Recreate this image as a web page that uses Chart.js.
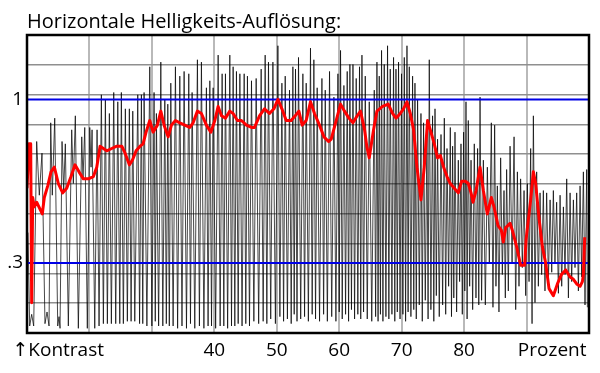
<!DOCTYPE html>
<html>
<head>
<meta charset="utf-8">
<script src="https://cdn.jsdelivr.net/npm/chart.js@4/dist/chart.umd.min.js"></script>
<style>
html, body { margin: 0; padding: 0; background: #fff; }
</style>
</head>
<body>
<canvas id="myChart" width="600" height="373"></canvas>
<script>
// x = Prozent, y = Kontrast (linear, 0 at the bottom frame)
var titleText = 'Horizontale Helligkeits-Auflösung:';
var xGrid = [20, 30, 40, 50, 60, 70, 80, 90];
var xLabels = { 15: '\u2191Kontrast', 40: '40', 50: '50', 60: '60', 70: '70', 80: '80', 94.1: 'Prozent' };
var yGrid = [0.128, 0.255, 0.383, 0.51, 0.638, 0.766, 0.893, 1.021, 1.148];
var yLabels = { 1: '1', 0.3: '.3' };
var refLevels = [1, 0.3];

// measured sweep (black), [prozent, kontrast]
var sweep = [
  [10.16,0.43],[10.43,0.03],[10.75,0.08],[11.07,0.03],[11.55,0.82],[11.97,0.59],[12.40,0.77],[12.88,0.04],
  [13.21,0.09],[13.53,0.03],[13.80,0.90],[14.05,0.59],[14.44,0.92],[14.92,0.03],[15.13,0.07],[15.29,0.02],
  [15.61,0.82],[15.88,0.61],[16.14,0.81],[16.62,0.03],[17.16,0.87],[17.42,0.64],[17.74,0.93],[18.22,0.02],
  [18.77,0.84],[18.97,0.66],[19.25,0.88],[19.66,0.02],[20.05,0.88],[20.26,0.71],[20.42,0.87],[20.85,0.02],
  [21.22,0.87],[21.54,0.03],[21.91,1.02],[22.23,0.04],[22.55,1.00],[22.87,0.04],[23.19,0.94],[23.51,0.04],
  [23.89,1.03],[24.21,0.04],[24.54,0.99],[24.86,0.04],[25.11,1.03],[25.43,0.04],[25.75,0.96],[26.07,0.05],
  [26.39,0.96],[26.67,0.05],[26.94,0.95],[27.26,0.05],[27.74,1.02],
  [28.03,0.04],[28.32,1.02],[28.54,0.04],[28.75,1.03],[29.20,0.03],[29.66,1.14],[30.00,0.03],[30.35,1.03],
  [30.54,0.05],[30.72,0.94],[31.08,0.03],[31.43,1.16],[31.75,0.03],[32.07,1.00],[32.31,0.04],[32.55,0.98],
  [32.79,0.03],[33.03,1.07],[33.40,0.03],[33.77,1.14],[34.12,0.02],[34.47,1.10],[34.82,0.03],[35.16,1.12],
  [35.54,0.02],[35.91,1.11],[36.18,0.04],[36.44,1.03],[36.87,0.02],[37.29,1.17],[37.61,0.03],[37.93,1.16],
  [38.33,0.02],[38.73,1.05],[39.00,0.03],[39.28,1.08],[39.55,0.03],[39.81,1.05],[40.21,0.02],[40.61,1.19],
  [40.93,0.03],[41.25,1.11],[41.52,0.03],[41.78,1.11],[42.13,0.02],[42.48,1.19],[42.75,0.03],[43.01,1.14],
  [43.28,0.03],[43.54,1.12],[43.82,0.04],[44.09,1.11],[44.44,0.03],[44.78,1.11],[45.04,0.04],[45.30,1.10],
  [45.63,0.03],[45.95,1.08],
  [46.33,0.05],[46.70,1.09],[47.10,0.04],[47.50,1.13],[47.82,0.05],[48.14,1.19],[48.41,0.04],[48.67,1.16],
  [49.03,0.06],[49.38,1.16],[49.78,0.04],[50.18,1.23],[50.50,0.07],[50.82,1.07],[51.09,0.05],[51.35,1.10],
  [51.70,0.06],[52.04,1.04],[52.31,0.04],[52.58,1.14],[52.79,0.08],[53.00,1.13],[53.24,0.05],[53.48,1.18],
  [53.83,0.06],[54.18,1.11],[54.45,0.07],[54.71,1.07],[55.06,0.05],[55.40,1.22],[55.67,0.08],[55.94,1.17],
  [56.21,0.06],[56.47,1.05],[56.85,0.05],[57.23,1.09],[57.50,0.08],[57.76,1.04],[58.10,0.05],[58.45,1.12],
  [58.80,0.07],[59.15,1.01],[59.47,0.05],[59.79,1.11],[60.00,0.09],[60.21,1.21],[60.48,0.06],[60.75,1.06],
  [61.02,0.08],[61.28,1.12],[61.50,0.05],[61.71,1.15],[61.96,0.10],[62.20,1.15],[62.46,0.06],[62.72,1.09],
  [62.98,0.08],[63.25,1.14],[63.45,0.06],[63.64,1.19],[63.90,0.09],[64.17,1.10],
  [64.49,0.06],[64.81,0.99],[65.21,0.05],[65.61,1.04],[65.83,0.07],[66.04,1.16],[66.22,0.05],[66.41,1.10],
  [66.60,0.08],[66.78,1.21],[67.00,0.05],[67.21,1.15],[67.48,0.07],[67.74,1.23],[67.95,0.06],[68.17,1.13],
  [68.44,0.08],[68.70,1.18],[68.90,0.05],[69.09,1.13],[69.30,0.09],[69.50,1.16],[69.74,0.06],[69.98,1.11],
  [70.20,0.08],[70.42,1.18],[70.63,0.05],[70.85,1.23],[71.03,0.09],[71.22,1.14],[71.48,0.07],[71.75,1.10],
  [71.94,0.10],[72.13,1.07],[72.34,0.06],[72.55,1.00],[72.82,0.12],[73.09,0.94],[73.30,0.05],[73.51,0.90],
  [73.78,0.14],[74.05,0.86],[74.23,0.06],[74.42,1.17],[74.68,0.10],[74.95,0.93],[75.15,0.05],[75.34,0.96],
  [75.55,0.16],[75.75,0.83],[76.02,0.07],[76.30,0.85],[76.56,0.12],[76.83,0.92],[77.05,0.08],[77.26,0.79],
  [77.52,0.20],[77.79,0.88],[77.98,0.07],[78.16,0.80],[78.35,0.15],[78.54,0.86],[78.80,0.09],[79.07,0.74],
  [79.28,0.22],[79.50,0.81],[79.71,0.08],[79.92,0.86],[80.11,0.18],[80.30,0.99],[80.48,0.06],[80.67,0.91],
  [80.89,0.20],[81.11,0.74],[81.37,0.10],[81.63,0.81],[81.90,0.15],[82.16,0.79],
  [82.35,0.12],[82.55,1.01],[82.80,0.14],[83.08,0.74],[83.40,0.12],[83.72,0.71],[84.04,0.30],[84.36,0.90],
  [84.62,0.11],[84.89,0.89],[85.10,0.20],[85.32,0.63],[85.58,0.09],[85.85,0.75],[86.12,0.25],[86.39,0.61],
  [86.60,0.15],[86.81,0.70],[87.08,0.18],[87.36,0.80],[87.68,0.30],[88.00,0.84],[88.26,0.10],[88.53,0.69],
  [88.79,0.20],[89.05,0.66],[89.32,0.28],[89.60,0.61],[89.86,0.16],[90.13,0.64],[90.40,0.22],[90.66,0.79],
  [90.88,0.04],[91.09,0.93],[91.35,0.13],[91.62,0.69],[91.89,0.20],[92.16,0.60],[92.42,0.25],[92.69,0.61],
  [92.95,0.18],[93.22,0.60],[93.50,0.22],[93.77,0.57],[94.03,0.26],[94.29,0.61],[94.55,0.30],[94.82,0.56],
  [95.10,0.17],[95.37,0.59],[95.63,0.20],[95.90,0.54],[96.16,0.25],[96.43,0.66],[96.70,0.15],[96.97,0.60],
  [97.23,0.22],[97.50,0.57],[97.76,0.28],[98.03,0.60],[98.30,0.18],[98.57,0.63],[98.83,0.24],[99.10,0.69],
  [99.36,0.12],[99.63,0.70],[99.74,0.11]
];

// measured contrast curve (red)
var contrast = [
  [10.00,0.62],[10.32,0.81],[10.59,0.81],[10.75,0.13],[10.91,0.58],[11.17,0.54],[11.55,0.56],[12.08,0.53],
  [12.45,0.51],[12.77,0.58],[13.32,0.63],[13.85,0.69],[14.38,0.71],[15.02,0.64],[15.72,0.60],[16.36,0.62],
  [17.05,0.67],[17.69,0.72],[18.33,0.69],[19.02,0.66],[19.82,0.66],[20.63,0.67],[21.17,0.71],[21.70,0.80],
  [22.23,0.79],[22.77,0.78],[23.57,0.79],[24.38,0.80],[25.18,0.80],[25.71,0.77],[26.39,0.72],[26.88,0.74],
  [27.47,0.78],[28.11,0.80],[28.59,0.81],[29.07,0.86],[29.66,0.91],[30.19,0.86],[30.88,0.89],[31.43,0.95],
  [31.96,0.89],[32.60,0.84],[33.13,0.89],[33.77,0.91],[34.47,0.90],[35.27,0.89],[36.07,0.88],[36.60,0.90],
  [37.29,0.95],[37.93,0.94],[38.73,0.89],[39.44,0.86],[40.08,0.91],[40.61,0.97],[41.14,0.93],[41.78,0.92],
  [42.48,0.95],[43.01,0.94],[43.70,0.91],[44.34,0.91],[45.14,0.89],[45.95,0.88],[46.43,0.88],[47.23,0.93],
  [48.03,0.96],[48.83,0.94],[49.54,0.96],[50.18,1.00],[50.82,0.96],[51.51,0.91],[52.31,0.91],[52.95,0.93],
  [53.54,0.95],[54.07,0.89],[54.71,0.91],[55.40,0.99],[56.04,0.94],[56.84,0.89],[57.55,0.84],[58.29,0.82],
  [58.72,0.83],[59.52,0.91],[60.21,0.98],[60.85,0.95],[61.55,0.92],[62.20,0.90],[62.88,0.93],[63.41,0.95],
  [64.06,0.87],[64.41,0.80],[64.81,0.75],[65.50,0.87],[66.04,0.95],[66.94,0.97],[67.85,0.98],[68.54,0.94],
  [69.09,0.92],[69.78,0.94],[70.30,0.96],[70.85,0.99],[71.38,0.94],[71.91,0.87],[72.45,0.71],[73.09,0.57],
  [73.62,0.71],[74.15,0.91],[74.69,0.86],[75.22,0.81],[75.75,0.75],[76.19,0.76],[76.72,0.71],[77.26,0.67],
  [77.79,0.64],[78.43,0.62],[79.07,0.60],[79.60,0.65],[80.19,0.65],[80.67,0.64],[81.11,0.60],[81.43,0.56],
  [81.91,0.61],[82.55,0.71],[83.08,0.61],[83.72,0.51],[84.36,0.58],[84.79,0.54],[85.43,0.46],[85.96,0.44],
  [86.28,0.39],[86.65,0.45],[87.36,0.47],[87.72,0.44],[88.41,0.37],[89.05,0.29],[89.70,0.29],[89.92,0.40],
  [90.66,0.57],[91.09,0.69],[91.46,0.64],[92.00,0.49],[92.53,0.37],[93.06,0.30],[93.60,0.19],[94.29,0.16],
  [94.94,0.21],[95.58,0.25],[96.27,0.27],[96.97,0.24],[97.50,0.23],[98.03,0.21],[98.57,0.20],[98.94,0.22],
  [99.10,0.25],[99.31,0.41]
];

function toPoints(arr) {
  return arr.map(function (p) { return { x: p[0], y: p[1] }; });
}

Chart.defaults.font.family = '"Open Sans", "DejaVu Sans", sans-serif';
Chart.defaults.color = '#000';

// frame round the plot area
var framePlugin = {
  id: 'frame',
  afterDatasetsDraw: function (chart) {
    var a = chart.chartArea, c = chart.ctx;
    c.save();
    c.strokeStyle = '#000';
    c.lineWidth = 2.5;
    c.strokeRect(a.left, a.top, a.right - a.left, a.bottom - a.top);
    c.restore();
  }
};

var datasets = [{
  label: 'Kontrast',
  data: toPoints(contrast),
  borderColor: '#ff0000',
  borderWidth: 3,
  pointRadius: 0,
  borderJoinStyle: 'round',
  order: 0
}];
refLevels.forEach(function (lvl) {
  datasets.push({
    label: 'ref ' + lvl,
    data: [{ x: 10, y: lvl }, { x: 100, y: lvl }],
    borderColor: '#0000e6',
    borderWidth: 2,
    pointRadius: 0,
    order: 1
  });
});
datasets.push({
  label: 'Signal',
  data: toPoints(sweep),
  borderColor: 'rgba(0,0,0,0.72)',
  borderWidth: 1,
  pointRadius: 0,
  order: 2
});

var ctx = document.getElementById('myChart');
var myChart = new Chart(ctx, {
  type: 'line',
  data: { datasets: datasets },
  options: {
    responsive: false,
    animation: false,
    devicePixelRatio: 1,
    layout: { padding: { left: 0, right: 11, top: 0, bottom: 0 } },
    plugins: {
      legend: { display: false },
      tooltip: { enabled: false },
      title: {
        display: true,
        text: titleText,
        align: 'start',
        fullSize: false,
        color: '#000',
        font: { size: 20, weight: 'normal' },
        padding: { top: 10, bottom: 1 }
      }
    },
    scales: {
      x: {
        type: 'linear',
        min: 10,
        max: 100,
        afterBuildTicks: function (scale) {
          scale.ticks = [15].concat(xGrid, [94.1]).map(function (v) { return { value: v }; });
        },
        afterFit: function (scale) { scale.height = 40; },
        ticks: {
          autoSkip: false,
          maxRotation: 0,
          minRotation: 0,
          padding: 6,
          font: { size: 19 },
          callback: function (v) { return xLabels[v] || ''; }
        },
        grid: {
          drawTicks: false,
          lineWidth: 2,
          color: function (c) {
            return c.tick && xGrid.indexOf(c.tick.value) >= 0 ? '#b9b9b9' : 'rgba(0,0,0,0)';
          }
        },
        border: { display: false }
      },
      y: {
        type: 'linear',
        min: 0,
        max: 1.276,
        afterBuildTicks: function (scale) {
          scale.ticks = yGrid.concat(refLevels).sort(function (a, b) { return a - b; })
            .map(function (v) { return { value: v }; });
        },
        afterFit: function (scale) { scale.width = 27; },
        ticks: {
          autoSkip: false,
          padding: 4,
          font: { size: 19 },
          callback: function (v) { return yLabels[v] || ''; }
        },
        grid: {
          drawTicks: false,
          lineWidth: 1.5,
          color: function (c) {
            return c.tick && yGrid.indexOf(c.tick.value) >= 0 ? '#8f8f8f' : 'rgba(0,0,0,0)';
          }
        },
        border: { display: false }
      }
    }
  },
  plugins: [framePlugin]
});
</script>
</body>
</html>
